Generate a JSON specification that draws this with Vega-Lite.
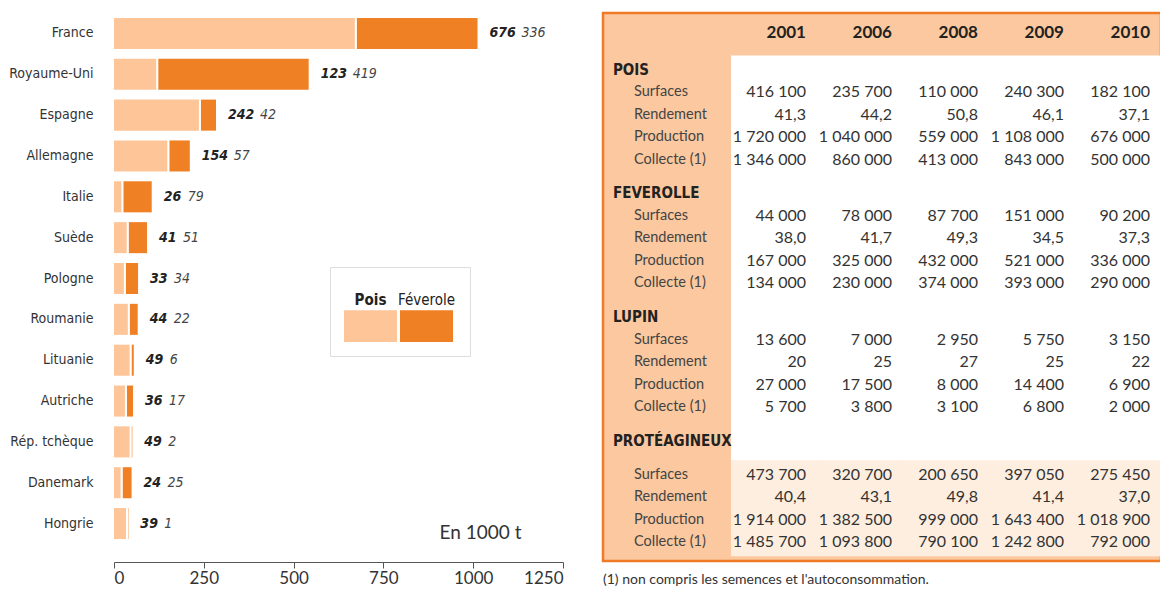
{
  "$schema": "https://vega.github.io/schema/vega-lite/v6.json",
  "padding": {"left": 8, "top": 11, "right": 0, "bottom": 0},
  "spacing": 37,
  "background": "white",
  "config": {"view": {"stroke": null}},
  "datasets": {
    "pays": [
      {"pays": "France", "Pois": 676, "Féverole": 336},
      {"pays": "Royaume-Uni", "Pois": 123, "Féverole": 419},
      {"pays": "Espagne", "Pois": 242, "Féverole": 42},
      {"pays": "Allemagne", "Pois": 154, "Féverole": 57},
      {"pays": "Italie", "Pois": 26, "Féverole": 79},
      {"pays": "Suède", "Pois": 41, "Féverole": 51},
      {"pays": "Pologne", "Pois": 33, "Féverole": 34},
      {"pays": "Roumanie", "Pois": 44, "Féverole": 22},
      {"pays": "Lituanie", "Pois": 49, "Féverole": 6},
      {"pays": "Autriche", "Pois": 36, "Féverole": 17},
      {"pays": "Rép. tchèque", "Pois": 49, "Féverole": 2},
      {"pays": "Danemark", "Pois": 24, "Féverole": 25},
      {"pays": "Hongrie", "Pois": 39, "Féverole": 1}
    ],
    "years": [{"col": "2001"}, {"col": "2006"}, {"col": "2008"}, {"col": "2009"}, {"col": "2010"}],
    "table": [
      {"row": "POIS", "label": "POIS", "type": "h"},
      {"row": "POIS_Surf", "label": "Surfaces", "type": "s", "2001": "416 100", "2006": "235 700", "2008": "110 000", "2009": "240 300", "2010": "182 100"},
      {"row": "POIS_Rend", "label": "Rendement", "type": "s", "2001": "41,3", "2006": "44,2", "2008": "50,8", "2009": "46,1", "2010": "37,1"},
      {"row": "POIS_Prod", "label": "Production", "type": "s", "2001": "1 720 000", "2006": "1 040 000", "2008": "559 000", "2009": "1 108 000", "2010": "676 000"},
      {"row": "POIS_Coll", "label": "Collecte (1)", "type": "s", "2001": "1 346 000", "2006": "860 000", "2008": "413 000", "2009": "843 000", "2010": "500 000"},
      {"row": "FEV", "label": "FEVEROLLE", "type": "h"},
      {"row": "FEV_Surf", "label": "Surfaces", "type": "s", "2001": "44 000", "2006": "78 000", "2008": "87 700", "2009": "151 000", "2010": "90 200"},
      {"row": "FEV_Rend", "label": "Rendement", "type": "s", "2001": "38,0", "2006": "41,7", "2008": "49,3", "2009": "34,5", "2010": "37,3"},
      {"row": "FEV_Prod", "label": "Production", "type": "s", "2001": "167 000", "2006": "325 000", "2008": "432 000", "2009": "521 000", "2010": "336 000"},
      {"row": "FEV_Coll", "label": "Collecte (1)", "type": "s", "2001": "134 000", "2006": "230 000", "2008": "374 000", "2009": "393 000", "2010": "290 000"},
      {"row": "LUP", "label": "LUPIN", "type": "h"},
      {"row": "LUP_Surf", "label": "Surfaces", "type": "s", "2001": "13 600", "2006": "7 000", "2008": "2 950", "2009": "5 750", "2010": "3 150"},
      {"row": "LUP_Rend", "label": "Rendement", "type": "s", "2001": "20", "2006": "25", "2008": "27", "2009": "25", "2010": "22"},
      {"row": "LUP_Prod", "label": "Production", "type": "s", "2001": "27 000", "2006": "17 500", "2008": "8 000", "2009": "14 400", "2010": "6 900"},
      {"row": "LUP_Coll", "label": "Collecte (1)", "type": "s", "2001": "5 700", "2006": "3 800", "2008": "3 100", "2009": "6 800", "2010": "2 000"},
      {"row": "PROT", "label": "PROTÉAGINEUX", "type": "h"},
      {"row": "PROT_Surf", "label": "Surfaces", "type": "s", "2001": "473 700", "2006": "320 700", "2008": "200 650", "2009": "397 050", "2010": "275 450"},
      {"row": "PROT_Rend", "label": "Rendement", "type": "s", "2001": "40,4", "2006": "43,1", "2008": "49,8", "2009": "41,4", "2010": "37,0"},
      {"row": "PROT_Prod", "label": "Production", "type": "s", "2001": "1 914 000", "2006": "1 382 500", "2008": "999 000", "2009": "1 643 400", "2010": "1 018 900"},
      {"row": "PROT_Coll", "label": "Collecte (1)", "type": "s", "2001": "1 485 700", "2006": "1 093 800", "2008": "790 100", "2009": "1 242 800", "2010": "792 000"}
    ]
  },
  "hconcat": [
    {
      "width": 449,
      "height": 531,
      "data": {"name": "pays"},
      "encoding": {
        "y": {
          "field": "pays", "type": "nominal",
          "sort": ["France", "Royaume-Uni", "Espagne", "Allemagne", "Italie", "Suède", "Pologne", "Roumanie", "Lituanie", "Autriche", "Rép. tchèque", "Danemark", "Hongrie"],
          "scale": {"paddingInner": 0.24, "paddingOuter": 0.12},
          "axis": {"title": null, "domain": false, "ticks": false, "labelPadding": 21, "labelFont": "DejaVu Sans Condensed, sans-serif", "labelFontSize": 14, "labelColor": "#333"}
        }
      },
      "layer": [
        {
          "transform": [{"fold": ["Pois", "Féverole"], "as": ["culture", "value"]}],
          "mark": {"type": "bar"},
          "encoding": {
            "x": {
              "field": "value", "type": "quantitative", "stack": "zero",
              "scale": {"domain": [0, 1250], "nice": false},
              "axis": {
                "values": [0, 250, 500, 750, 1000, 1250], "format": "d", "grid": false, "offset": 18,
                "domainColor": "#555", "tickColor": "#555", "tickSize": 6, "labelPadding": 2,
                "labelFont": "Lato", "labelFontSize": 17, "labelColor": "#333",
                "title": "En 1000 t", "titleFont": "Lato", "titleFontSize": 19, "titleFontWeight": "normal", "titleColor": "#333",
                "titleX": 366, "titleY": -30, "titleAlign": "center", "titleBaseline": "middle"
              }
            },
            "color": {
              "field": "culture", "type": "nominal",
              "scale": {"domain": ["Pois", "Féverole"], "range": ["#FDC598", "#F08024"]},
              "legend": {
                "orient": "none", "legendX": 216, "legendY": 254, "direction": "horizontal", "title": null,
                "symbolType": "M-1,0.1H1V1.3H-1Z", "symbolSize": 2809, "symbolStrokeWidth": 0, "symbolOpacity": 1,
                "labelAlign": "center", "labelOffset": -26.5, "labelBaseline": "bottom",
                "labelFont": "DejaVu Sans Condensed, sans-serif", "labelFontSize": 15, "labelColor": "#222",
                "labelFontWeight": {"expr": "datum.label === 'Pois' ? 'bold' : 'normal'"},
                "fillColor": "white", "strokeColor": "#dddddd", "padding": 14, "columnPadding": 0
              }
            },
            "order": {"field": "culture", "sort": "descending"}
          }
        },
        {
          "mark": {"type": "tick", "color": "white", "thickness": 2, "size": 32, "xOffset": -1, "opacity": 1},
          "encoding": {
            "x": {"field": "Pois", "type": "quantitative"}
          }
        },
        {
          "transform": [
            {"fold": ["Pois", "Féverole"], "as": ["culture", "value"]},
            {"joinaggregate": [{"op": "sum", "field": "value", "as": "total"}], "groupby": ["pays"]},
            {"filter": "datum.culture === 'Pois'"}
          ],
          "mark": {"type": "text", "align": "left", "baseline": "middle", "dx": 12, "font": "DejaVu Sans Condensed, sans-serif", "fontSize": 14, "fontWeight": "bold", "fontStyle": "italic", "color": "#222"},
          "encoding": {
            "x": {"field": "total", "type": "quantitative"},
            "text": {"field": "Pois", "type": "quantitative"}
          }
        },
        {
          "transform": [
            {"fold": ["Pois", "Féverole"], "as": ["culture", "value"]},
            {"joinaggregate": [{"op": "sum", "field": "value", "as": "total"}], "groupby": ["pays"]},
            {"filter": "datum.culture === 'Pois' && datum.Pois >= 100"}
          ],
          "mark": {"type": "text", "align": "left", "baseline": "middle", "dx": 44, "font": "DejaVu Sans Condensed, sans-serif", "fontSize": 14, "fontStyle": "italic", "color": "#444"},
          "encoding": {
            "x": {"field": "total", "type": "quantitative"},
            "text": {"field": "Féverole", "type": "quantitative"}
          }
        },
        {
          "transform": [
            {"fold": ["Pois", "Féverole"], "as": ["culture", "value"]},
            {"joinaggregate": [{"op": "sum", "field": "value", "as": "total"}], "groupby": ["pays"]},
            {"filter": "datum.culture === 'Pois' && datum.Pois < 100"}
          ],
          "mark": {"type": "text", "align": "left", "baseline": "middle", "dx": 36, "font": "DejaVu Sans Condensed, sans-serif", "fontSize": 14, "fontStyle": "italic", "color": "#444"},
          "encoding": {
            "x": {"field": "total", "type": "quantitative"},
            "text": {"field": "Féverole", "type": "quantitative"}
          }
        }
      ]
    },
    {
      "width": 558,
      "height": 548,
      "view": {"fill": "#FBC89F", "stroke": "#F07A26", "strokeWidth": 2.5},
      "title": {"text": "(1) non compris les semences et l'autoconsommation.", "orient": "bottom", "anchor": "start", "font": "Lato", "fontSize": 14, "fontWeight": "normal", "color": "#333", "offset": 12},
      "layer": [
        {
          "data": {"name": "years"},
          "mark": {"type": "rect", "fill": "white", "height": {"band": 36.5}},
          "encoding": {
            "x": {"field": "col", "type": "nominal", "scale": {"domain": ["lab", "2001", "2006", "2008", "2009", "2010"], "paddingInner": 0, "paddingOuter": 0.244, "align": 1}, "axis": null},
            "y": {"datum": "FEV_Prod", "type": "nominal",
              "scale": {"domain": ["s0", "hdr", "s2", "s3", "POIS", "s5", "POIS_Surf", "s7", "POIS_Rend", "s9", "POIS_Prod", "s11", "POIS_Coll", "s13", "s14", "FEV", "s16", "FEV_Surf", "s18", "FEV_Rend", "s20", "FEV_Prod", "s22", "FEV_Coll", "s24", "s25", "LUP", "s27", "LUP_Surf", "s29", "LUP_Rend", "s31", "LUP_Prod", "s33", "LUP_Coll", "s35", "s36", "PROT", "s38", "s39", "PROT_Surf", "s41", "PROT_Rend", "s43", "PROT_Prod", "s45", "PROT_Coll", "s47"], "paddingInner": 0, "paddingOuter": 0.356, "align": 0.74},
              "axis": null}
          }
        },
        {
          "data": {"name": "years"},
          "mark": {"type": "rect", "fill": "#FDEEE0", "height": {"band": 8.53}},
          "encoding": {
            "x": {"field": "col", "type": "nominal"},
            "y": {"datum": "s43", "type": "nominal", "bandPosition": 0.74}
          }
        },
        {
          "data": {"name": "years"},
          "mark": {"type": "text", "align": "right", "baseline": "middle", "dx": -11, "dy": -3, "font": "Lato", "fontSize": 17, "fontWeight": "bold", "color": "#222"},
          "encoding": {
            "x": {"field": "col", "type": "nominal", "bandPosition": 1},
            "y": {"datum": "hdr", "type": "nominal"},
            "text": {"field": "col", "type": "nominal"}
          }
        },
        {
          "data": {"name": "table"},
          "transform": [{"filter": "datum.type === 'h'"}],
          "mark": {"type": "text", "align": "left", "baseline": "middle", "dx": -32, "font": "DejaVu Sans Condensed, sans-serif", "fontSize": 15, "fontWeight": "bold", "color": "#222"},
          "encoding": {
            "x": {"datum": "lab", "type": "nominal", "bandPosition": 0},
            "y": {"field": "row", "type": "nominal"},
            "text": {"field": "label", "type": "nominal"}
          }
        },
        {
          "data": {"name": "table"},
          "transform": [{"filter": "datum.type === 's'"}],
          "mark": {"type": "text", "align": "left", "baseline": "middle", "dx": -11, "font": "Lato", "fontSize": 14.5, "color": "#444"},
          "encoding": {
            "x": {"datum": "lab", "type": "nominal", "bandPosition": 0},
            "y": {"field": "row", "type": "nominal"},
            "text": {"field": "label", "type": "nominal"}
          }
        },
        {
          "data": {"name": "table"},
          "transform": [
            {"filter": "datum.type === 's'"},
            {"fold": ["2001", "2006", "2008", "2009", "2010"], "as": ["col", "v"]}
          ],
          "mark": {"type": "text", "align": "right", "baseline": "middle", "dx": -11, "font": "Lato", "fontSize": 16, "color": "#333"},
          "encoding": {
            "x": {"field": "col", "type": "nominal", "bandPosition": 1},
            "y": {"field": "row", "type": "nominal"},
            "text": {"field": "v", "type": "nominal"}
          }
        }
      ]
    }
  ]
}
